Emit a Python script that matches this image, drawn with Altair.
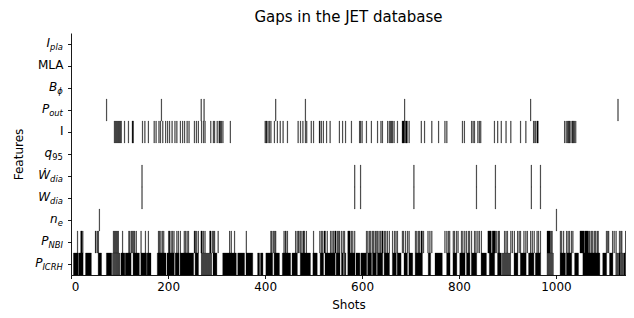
import altair as alt
import pandas as pd

# ---------------- data ----------------
features = ["I_pla", "MLA", "B_phi", "P_out", "I", "q95", "Wdot_dia", "W_dia", "n_e", "P_NBI", "P_ICRH"]
label_base = ["I", "MLA", "B", "P", "I", "q", "Ẇ", "W", "n", "P", "P"]
label_sub = ["pla", "", "ϕ", "out", "", "95", "dia", "dia", "e", "NBI", "ICRH"]
base_italic = [True, False, True, True, False, True, True, True, True, True, True]
sub_italic = [True, True, True, True, True, False, True, True, True, True, True]

x_ticks = [0, 200, 400, 600, 800, 1000]
n_shots = 1145

gaps_I_pla = []
gaps_MLA = []
gaps_B_phi = []
gaps_P_out = [73, 186, 268, 274, 422, 483, 688, 948, 1128]
gaps_I = [89, 91, 93, 95, 97, 99, 101, 103, 110, 118, (126, 128), 147, 152, 159, 171, 175, 181, 184,
          189, 195, 199, 203, 208, 214, 218, 225, 230, 234, 239, 243, 254, 258, 262, 269, 273, 276,
          288, 293, 296, 301, (305, 306), 308, 310, 313, 328,
          400, (402, 403), 406, 409, 412, 419, 425, 431, 437, 446, 468, 473, 478, 483, 486, 495,
          500, (512, 513), 516, 520, 527, 534, 553, 560, 566, 578, 595, 597, 600, 609, 619, 632,
          639, 642, 653, 656, 659, 661, 663, 666, 673, (683, 686), 688, (690, 693), 697, 722, 729,
          744, 758, 771, 775, 807, 811, 826, 829, 832, 839, 842, 845, 873, 880, 887, 897, 907,
          927, 938, (954, 955), 958, (961, 963), 1018, 1021, 1024, (1026, 1028), 1031,
          (1034, 1036), 1038, 1041]
gaps_q95 = []
gaps_Wdot_dia = [146, 585, 597, 707, 836, 875, 949, 968]
gaps_W_dia = [146, 585, 597, 707, 836, 875, 949, 968]
gaps_n_e = [58, 1001]
gaps_P_NBI = [13, (20, 22), 24, (50, 51), 54, 56, 87, 89, 91, 93, 95, 97, 106, 119, 121, 124, 126, 129,
              131, 134, 144, 153, 159, 180, 182, 185, 188, 191, (201, 203), 206, 209, 212, 218, 221, 225,
              233, 236, 239, 242, (254, 256), 259, 262, (268, 270), 273, 276, (286, 288), 291, 294, 296,
              303, 327, 330, 337, 361, 412, 414, 417, 420, 422, 439, (442, 443), 446, 463, 466, (469, 470),
              473, 476, (479, 481), 485, 500, 513, 516, 519, (522, 524), 528, 535, 538, 541, (544, 546),
              549, 552, 554, 558, 561, 564, (571, 575), 578, 581, 585, 609, 612, 615, 618, 621, 624, 627,
              629, 632, 635, 638, (641, 643), 646, 649, 652, 656, 663, 667, 670, 673, 683, 686, 690, 694,
              697, 710, 713, 716, 719, (722, 724), 727, 736, 740, 744, 771, 775, 778, 781, 788, 791, 795,
              798, 805, 808, 812, 815, 819, 822, 826, 832, 835, 839, 842, 846, (860, 866), (869, 875),
              878, 881, 883, 894, 897, 900, 907, 910, 914, 921, 924, 927, 934, 938, 941, 948, 951, 955,
              961, 964, 968, (982, 988), 990, 992, 1009, 1012, 1016, 1022, 1025, 1028, 1032, 1035,
              (1050, 1058), (1060, 1066), 1068, 1070, 1073, 1076, 1079, 1082, 1085, 1087, 1104, 1107,
              1109, 1117, 1120, 1124, 1131, 1134, 1136, 1144]
gaps_P_ICRH = [(5, 14), (16, 24), (30, 41), (56, 62), (73, 83), 86, 88, 90, 92, 94, 96, 98, 100,
               (103, 110), (112, 123), (128, 140), (144, 155), (157, 164), (178, 195), (198, 212),
               (215, 222), (225, 252), (256, 262), 269, 271, 273, 275, 277, 279, 281, 283, 285, 287, 289,
               (293, 300), (313, 340), (344, 357), (361, 374), (385, 388), (391, 395), (402, 415),
               (419, 429), (436, 452), (456, 466), (473, 493), (499, 507), (514, 520), (524, 544),
               (547, 554), (558, 561), (564, 566), (571, 585), (588, 595), (598, 609), (612, 619),
               (622, 629), (632, 642), (646, 656), (663, 670), (673, 680), (687, 693), (697, 704),
               (710, 724), (737, 741), (751, 765), (775, 781), (788, 795), (802, 812), (816, 822),
               (826, 836), (846, 856), (863, 873), (880, 887), 890, 892, 894, 896, 898, 900, 902, 904,
               906, (914, 921), (927, 938), (944, 954), (958, 968), 982, 984, 986, 988, 990, 992, 994,
               (1009, 1019), (1022, 1032), (1039, 1046), (1056, 1090), (1097, 1104), (1111, 1117),
               1124, 1126, 1128, (1130, 1132), 1134, 1136, 1138, (1140, 1142), 1144]

gap_lists = [gaps_I_pla, gaps_MLA, gaps_B_phi, gaps_P_out, gaps_I, gaps_q95, gaps_Wdot_dia,
             gaps_W_dia, gaps_n_e, gaps_P_NBI, gaps_P_ICRH]

# ---------------- tables ----------------
rows = []
for feat, lst in zip(features, gap_lists):
    for g in lst:
        s, e = (g, g) if isinstance(g, int) else g
        rows.append({"feature": feat, "start": s - 0.5, "end": e + 0.5})
gap_df = pd.DataFrame(rows)

# approximate DejaVu Sans advance widths (em) for subscript layout
adv = {"p": 0.635, "l": 0.278, "a": 0.613, "o": 0.612, "u": 0.634, "t": 0.392, "d": 0.635,
       "i": 0.278, "e": 0.615, "N": 0.748, "B": 0.686, "I": 0.295, "C": 0.698, "R": 0.695,
       "H": 0.752, "9": 0.636, "5": 0.636, "ϕ": 0.66}
FS = 12
SUB_FS = FS * 0.7
TICK_GAP = 7.5
lab_rows = []
for f, b, s, bi, si in zip(features, label_base, label_sub, base_italic, sub_italic):
    sw = sum(adv.get(c, 0.6) for c in s) * SUB_FS + (0.6 if s else 0)
    lab_rows.append({"feature": f, "base": b, "sub": s, "bi": bi, "si": si,
                     "bx": -TICK_GAP - sw, "sx": -TICK_GAP - sw})
lab_df = pd.DataFrame(lab_rows)

FONT = "DejaVu Sans"
W, H = 555, 242

x_scale = alt.Scale(domain=[-0.5, n_shots - 0.5], nice=False, zero=False)
y_scale = alt.Scale(paddingInner=0, paddingOuter=0)

bars = alt.Chart(gap_df).mark_rect(color="black", stroke="black", strokeWidth=0.3).encode(
    x=alt.X("start:Q", scale=x_scale,
            axis=alt.Axis(values=x_ticks, title="Shots", grid=False, format="d",
                          titleY=33, titleBaseline="alphabetic", titleFontWeight="normal",
                          titleFontSize=FS, labelFontSize=FS, labelPadding=2.5)),
    x2="end:Q",
    y=alt.Y("feature:N", sort=features, scale=y_scale,
            axis=alt.Axis(labels=False, title="Features", titleX=-53, titleY=H / 2,
                          titleAngle=-90, titleBaseline="middle", titleAlign="center",
                          titleFontWeight="normal", titleFontSize=FS)),
)

def label_layer(field, xfield, italic_field, italic, size, dy, align):
    return alt.Chart(lab_df).transform_filter(
        alt.datum[italic_field] == italic
    ).transform_filter(alt.datum[field] != "").mark_text(
        font=FONT, fontSize=size, fontStyle="italic" if italic else "normal",
        align=align, baseline="middle", dy=dy, color="black"
    ).encode(
        x=alt.X(f"{xfield}:Q", scale=None),
        y=alt.Y("feature:N", sort=features, scale=y_scale),
        text=f"{field}:N",
    )

labels = [
    label_layer("base", "bx", "bi", True, FS, -1, "right"),
    label_layer("base", "bx", "bi", False, FS, -1, "right"),
    label_layer("sub", "sx", "si", True, SUB_FS, 3.0, "left"),
    label_layer("sub", "sx", "si", False, SUB_FS, 3.0, "left"),
]

chart = alt.layer(bars, *labels).properties(
    width=W, height=H,
    title=alt.TitleParams("Gaps in the JET database", fontSize=15, fontWeight="normal",
                          font=FONT, anchor="middle", offset=8, color="black"),
    autosize=alt.AutoSizeParams(type="none"),
    padding={"left": 63, "top": 25, "right": 0, "bottom": 38},
).configure_view(stroke=None).configure_axis(
    labelFont=FONT, titleFont=FONT, labelColor="black", titleColor="black",
    domainColor="black", tickColor="black", tickSize=3.5, domainWidth=0.9, tickWidth=0.9,
)

chart.save("out.html", embed_options={"renderer": "svg", "actions": False})
